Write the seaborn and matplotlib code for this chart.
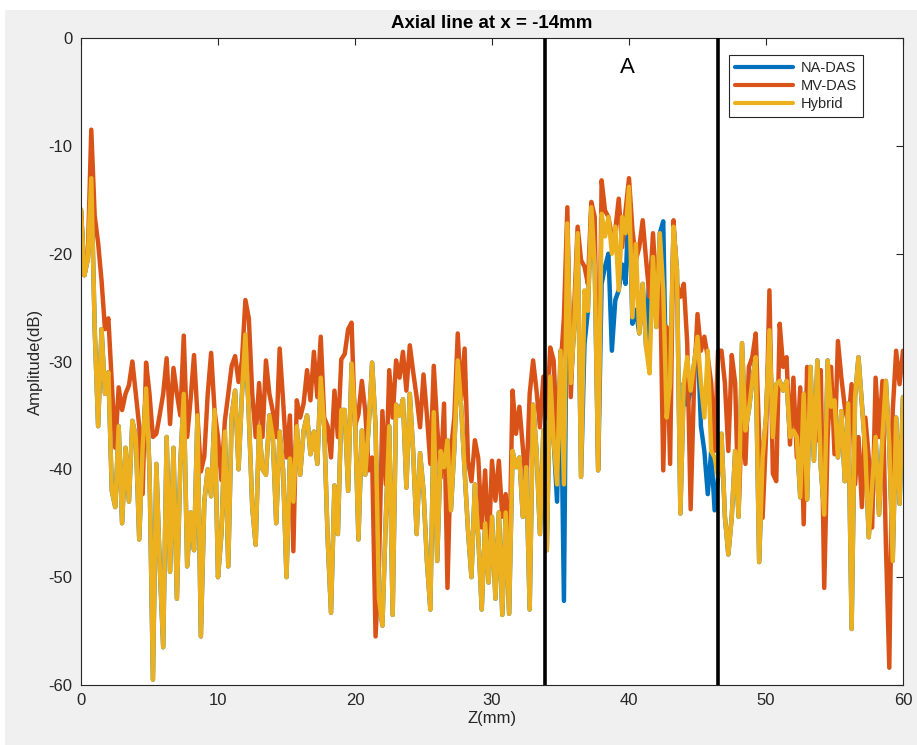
import numpy as np
import pandas as pd
import matplotlib
matplotlib.use("Agg")
import matplotlib.pyplot as plt
import seaborn as sns
from matplotlib.patches import Rectangle

# Axial sampling grid (mm)
n_samples = 241
depth_mm = np.arange(n_samples) * 0.25

# Axial amplitude profiles (dB) for the three beamformers
na_das = [
    -15.9, -22.0, -20.5, -13.0, -27.0, -36.0, -27.0, -33.0,
    -31.0, -42.0, -43.5, -36.0, -45.0, -38.0, -43.0, -35.5,
    -37.0, -46.5, -38.0, -32.5, -40.0, -59.5, -39.5, -49.0,
    -56.5, -37.0, -49.5, -38.0, -52.0, -39.5, -33.0, -49.0,
    -44.0, -47.5, -35.0, -55.5, -43.0, -40.0, -42.5, -34.5,
    -50.0, -46.0, -36.5, -49.0, -35.0, -32.7, -40.0, -33.0,
    -27.5, -35.0, -43.5, -47.0, -36.0, -40.0, -40.5, -35.0,
    -37.0, -45.0, -36.5, -40.0, -50.0, -39.0, -43.0, -36.0,
    -40.5, -36.4, -35.0, -38.6, -36.5, -39.5, -31.5, -36.0,
    -46.3, -53.3, -41.5, -46.0, -34.5, -34.5, -42.0, -30.2,
    -35.0, -46.5, -36.4, -40.5, -36.0, -30.1, -36.0, -52.0,
    -54.5, -44.5, -36.0, -53.5, -34.0, -35.0, -33.5, -41.7,
    -33.0, -38.5, -46.0, -38.5, -42.0, -48.5, -53.0, -34.7,
    -48.5, -38.3, -39.8, -37.3, -43.8, -38.0, -29.9, -34.2,
    -40.1, -45.7, -50.0, -41.4, -46.3, -53.0, -45.0, -50.5,
    -44.4, -52.0, -44.0, -53.5, -44.0, -53.4, -38.3, -39.8,
    -38.9, -44.4, -39.8, -53.0, -34.0, -38.3, -46.0, -36.4,
    -47.5, -31.4, -37.3, -43.0, -29.0, -52.2, -17.2, -32.0,
    -26.8, -18.1, -40.7, -28.4, -25.3, -15.7, -21.2, -40.1,
    -22.8, -21.2, -20.0, -29.0, -24.3, -23.4, -21.0, -22.8,
    -14.5, -26.5, -25.2, -27.4, -22.8, -28.7, -21.5, -20.3,
    -26.8, -18.1, -17.0, -35.2, -32.0, -17.5, -21.5, -44.1,
    -32.0, -34.0, -32.7, -30.2, -27.7, -36.0, -38.3, -42.3,
    -38.3, -43.8, -40.7, -36.7, -44.4, -47.9, -44.4, -38.3,
    -44.4, -28.3, -36.4, -34.5, -31.8, -29.6, -48.6, -38.9,
    -35.2, -27.1, -37.0, -32.1, -31.8, -32.7, -31.8, -37.0,
    -36.4, -37.0, -42.6, -33.0, -42.8, -30.5, -39.2, -29.9,
    -39.8, -44.2, -29.9, -34.2, -33.6, -38.9, -34.6, -41.1,
    -33.9, -54.8, -33.3, -29.6, -33.9, -38.3, -46.3, -41.4,
    -37.0, -44.2, -37.0, -31.8, -37.7, -48.5, -35.2, -43.2,
    -33.3,
]

mv_das = [
    -16.0, -22.0, -20.0, -8.5, -16.5, -19.0, -22.5, -27.0,
    -26.0, -32.0, -38.0, -32.4, -34.5, -33.0, -32.2, -30.0,
    -33.0, -36.0, -42.3, -30.1, -33.0, -37.0, -36.7, -34.9,
    -33.0, -29.7, -35.8, -30.6, -33.0, -35.0, -27.6, -37.0,
    -33.5, -29.4, -35.0, -40.2, -38.8, -33.0, -29.2, -34.6,
    -37.0, -41.0, -35.5, -33.0, -30.4, -29.5, -31.9, -29.9,
    -24.3, -26.0, -33.0, -37.0, -32.0, -37.0, -29.9, -33.0,
    -34.6, -37.0, -28.8, -33.6, -38.9, -35.0, -47.6, -33.6,
    -35.2, -33.9, -30.8, -33.6, -29.1, -33.3, -27.7, -35.2,
    -36.0, -38.9, -32.7, -37.0, -29.8, -29.3, -27.0, -26.4,
    -36.0, -34.9, -31.8, -34.6, -40.1, -38.9, -55.5, -49.0,
    -34.6, -41.4, -30.8, -35.2, -29.9, -31.5, -29.1, -32.7,
    -28.5, -31.0, -33.3, -36.1, -31.2, -35.0, -39.5, -30.4,
    -36.0, -40.8, -33.9, -51.0, -38.3, -35.2, -27.4, -33.6,
    -28.8, -39.2, -41.1, -37.3, -39.0, -45.4, -40.1, -47.6,
    -39.2, -42.9, -39.2, -44.4, -42.3, -49.1, -32.7, -36.7,
    -34.2, -37.9, -41.7, -33.0, -29.9, -32.7, -36.1, -31.4,
    -35.2, -28.7, -29.9, -37.0, -30.8, -25.9, -15.7, -33.3,
    -25.0, -17.5, -20.6, -21.2, -22.8, -15.2, -16.6, -40.0,
    -13.2, -16.0, -16.6, -18.4, -17.8, -14.9, -19.4, -16.0,
    -13.0, -17.8, -20.6, -19.4, -16.9, -20.6, -24.0, -18.1,
    -23.4, -20.6, -40.1, -26.8, -39.5, -16.9, -22.8, -24.0,
    -22.8, -28.3, -43.7, -32.0, -25.6, -29.0, -27.7, -29.6,
    -32.0, -38.3, -29.0, -29.0, -32.0, -38.3, -29.4, -32.0,
    -43.8, -35.0, -39.5, -30.5, -29.6, -27.4, -37.0, -44.5,
    -37.0, -23.4, -40.4, -41.1, -26.5, -30.5, -29.6, -37.7,
    -31.5, -38.9, -32.4, -45.1, -30.5, -36.1, -33.3, -37.3,
    -30.8, -51.0, -37.0, -30.5, -38.6, -28.1, -31.5, -34.2,
    -35.8, -32.1, -41.4, -37.0, -43.5, -35.2, -38.9, -45.4,
    -31.5, -37.0, -31.8, -46.9, -58.4, -34.6, -29.0, -32.1,
    -29.0,
]

hybrid = [
    -15.9, -22.0, -20.5, -13.0, -27.0, -36.0, -27.0, -33.0,
    -31.0, -42.0, -43.5, -36.0, -45.0, -38.0, -43.0, -35.5,
    -37.0, -46.5, -38.0, -32.5, -40.0, -59.5, -39.5, -49.0,
    -56.5, -37.0, -49.5, -38.0, -52.0, -39.5, -33.0, -49.0,
    -44.0, -47.5, -35.0, -55.5, -43.0, -40.0, -42.5, -34.5,
    -50.0, -46.0, -36.5, -49.0, -35.0, -32.7, -40.0, -33.0,
    -27.5, -35.0, -43.5, -47.0, -36.0, -40.0, -40.5, -35.0,
    -37.0, -45.0, -36.5, -40.0, -50.0, -39.0, -43.0, -36.0,
    -40.5, -36.4, -35.0, -38.6, -36.5, -39.5, -31.5, -36.0,
    -46.3, -53.3, -41.5, -46.0, -34.5, -34.5, -42.0, -30.2,
    -35.0, -46.5, -36.4, -40.5, -36.0, -30.1, -36.0, -52.0,
    -54.5, -44.5, -36.0, -53.5, -34.0, -35.0, -33.5, -41.7,
    -33.0, -38.5, -46.0, -38.5, -42.0, -48.5, -53.0, -34.7,
    -48.5, -38.3, -39.8, -37.3, -43.8, -38.0, -29.9, -34.2,
    -40.1, -45.7, -50.0, -41.4, -46.3, -53.0, -45.0, -50.5,
    -44.4, -52.0, -44.0, -53.5, -44.0, -53.4, -38.3, -39.8,
    -38.9, -44.4, -39.8, -53.0, -34.0, -38.3, -46.0, -36.4,
    -47.5, -31.4, -37.3, -41.4, -29.0, -41.4, -17.2, -32.0,
    -26.8, -18.1, -40.7, -23.4, -25.3, -15.7, -21.2, -40.1,
    -16.3, -18.4, -16.6, -20.0, -17.5, -23.4, -16.6, -18.1,
    -13.8, -25.9, -19.1, -27.4, -22.8, -28.7, -31.1, -20.3,
    -26.8, -18.1, -23.4, -35.2, -32.0, -17.5, -21.5, -44.1,
    -32.0, -29.6, -32.7, -30.2, -27.7, -32.0, -35.2, -29.0,
    -38.3, -38.9, -40.7, -36.7, -44.4, -47.9, -44.4, -38.3,
    -44.4, -28.3, -36.4, -34.5, -31.8, -29.6, -48.6, -38.9,
    -35.2, -27.1, -37.0, -32.1, -31.8, -32.7, -31.8, -37.0,
    -36.4, -37.0, -42.6, -33.0, -42.8, -30.5, -39.2, -29.9,
    -39.8, -44.2, -29.9, -34.2, -33.6, -38.9, -34.6, -41.1,
    -33.9, -54.8, -33.3, -29.6, -33.9, -38.3, -46.3, -41.4,
    -37.0, -44.2, -37.0, -31.8, -37.7, -48.5, -35.2, -43.2,
    -33.3,
]

method_names = ["NA-DAS", "MV-DAS", "Hybrid"]
method_colors = ["#0072BD", "#D95319", "#EDB120"]
region_bounds = [33.9, 46.5]
region_label = "A"
x_ticks = [0, 10, 20, 30, 40, 50, 60]
y_ticks = [-60, -50, -40, -30, -20, -10, 0]

sns.set_theme(style="white")
plt.rcParams["font.family"] = ["Liberation Sans", "DejaVu Sans"]
plt.rcParams["axes.unicode_minus"] = False

profiles = pd.DataFrame({
    "Z": np.tile(depth_mm, 3),
    "Amplitude": na_das + mv_das + hybrid,
    "Method": np.repeat(method_names, n_samples),
})

W, H = 917, 745
fig = plt.figure(figsize=(W / 100, H / 100), dpi=100, facecolor="#f0f0f0")
# thin white margin along the top and left edge of the window
fig.patches.append(Rectangle((0, 1 - 10 / H), 1, 10 / H, transform=fig.transFigure,
                             facecolor="white", edgecolor="none", zorder=0))
fig.patches.append(Rectangle((0, 0), 5 / W, 1, transform=fig.transFigure,
                             facecolor="white", edgecolor="none", zorder=0))

ax = fig.add_axes([81 / W, 60 / H, 822 / W, 647 / H])
ax.set_facecolor("white")

sns.lineplot(data=profiles, x="Z", y="Amplitude", hue="Method",
             hue_order=method_names, palette=method_colors,
             estimator=None, errorbar=None, linewidth=3.2, ax=ax)
for line in ax.get_lines():
    line.set_solid_joinstyle("round")

for zb in region_bounds:
    ax.axvline(zb, color="black", linewidth=2.6, zorder=5)
ax.text(sum(region_bounds) / 2 - 0.35, -2.7, region_label, fontsize=16,
        ha="center", va="center", color="black")

ax.set_xlim(0, 60)
ax.set_ylim(-60, 0)
ax.set_xticks(x_ticks)
ax.set_yticks(y_ticks)
ax.tick_params(direction="in", length=5, width=0.8, top=True, right=True,
               labelsize=12, colors="#262626", pad=6)
for sp in ax.spines.values():
    sp.set_visible(True)
    sp.set_color("#262626")
    sp.set_linewidth(0.8)

ax.set_title("Axial line at x = -14mm", fontsize=13.5, fontweight="bold",
             color="black", pad=7)
ax.set_xlabel("Z(mm)", fontsize=12, color="#262626", labelpad=2)
ax.set_ylabel("Amplitude(dB)", fontsize=12, color="#262626", labelpad=4)

handles, labels = ax.get_legend_handles_labels()
leg = ax.legend(handles, labels, loc="upper right", bbox_to_anchor=(0.951, 0.974),
                fontsize=10.5, frameon=True, fancybox=False, framealpha=1,
                edgecolor="#262626", handlelength=4.0, borderaxespad=0,
                borderpad=0.4, labelspacing=0.3, handletextpad=0.5)
leg.get_frame().set_linewidth(0.8)
for h in leg.get_lines():
    h.set_linewidth(3.0)

fig.savefig("out.png", dpi=100, facecolor=fig.get_facecolor())
